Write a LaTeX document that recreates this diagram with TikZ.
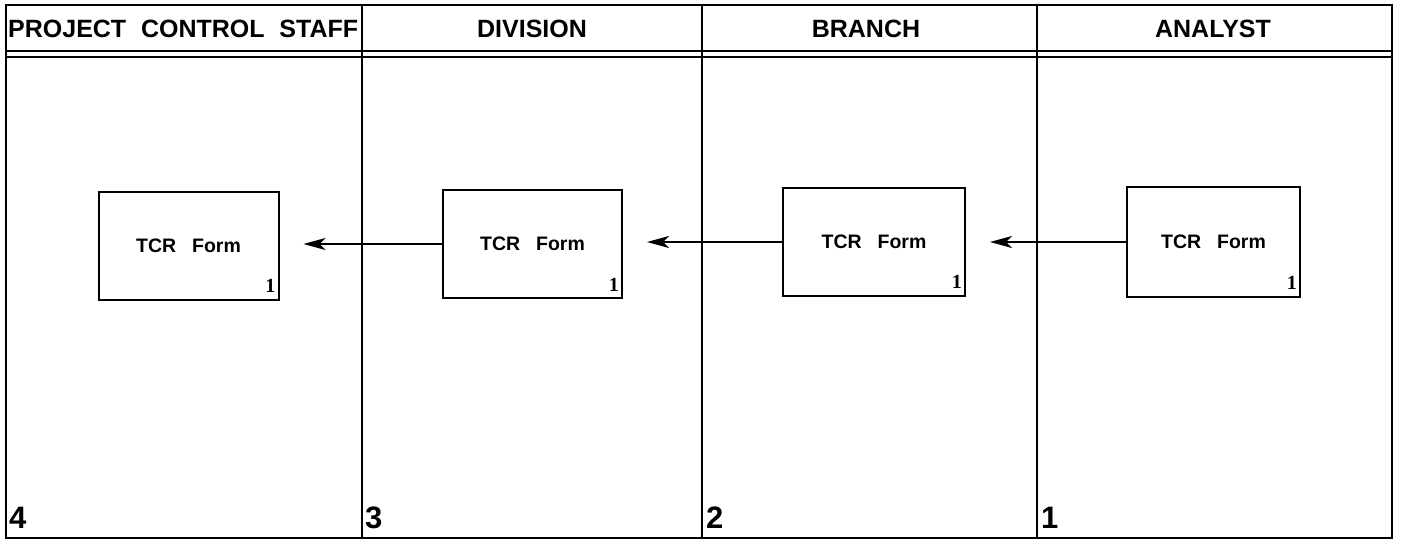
\documentclass[tikz,border=0pt]{standalone}
\usepackage{fontspec}
\setmainfont{Liberation Sans}
\newfontfamily\idxfont{Liberation Serif}
\usetikzlibrary{arrows.meta}
\begin{document}
\begin{tikzpicture}[x=1pt,y=-1pt,
  frameline/.style={line width=2.8pt},
  formbox/.style={draw,line width=2pt,minimum width=180pt,minimum height=108pt,inner sep=0pt,font=\fontsize{19.5}{19.5}\selectfont\bfseries},
  hdr/.style={font=\fontsize{25}{25}\selectfont\bfseries,inner sep=0pt,anchor=base},
  lanenum/.style={font=\fontsize{31}{31}\selectfont\bfseries,inner sep=0pt,anchor=base west},
  idx/.style={font=\idxfont\bfseries\fontsize{20}{20}\selectfont,inner sep=0pt,anchor=base east},
  flow/.style={line width=2.2pt,-{Stealth[length=22pt,width=12pt,inset=6pt]},shorten >=24pt}]
\useasboundingbox (0,0) rectangle (1401,540);
% frame and lanes
\draw[frameline] (6,5) rectangle (1392,538);
\draw[line width=1.6pt] (6,51) -- (1392,51);
\draw[frameline] (6,57) -- (1392,57);
\draw[frameline] (362,5) -- (362,538);
\draw[frameline] (702,5) -- (702,538);
\draw[frameline] (1037,5) -- (1037,538);
% headers
\node[hdr,anchor=base west] (hpcs) at (8,38) {\makebox[350pt][s]{PROJECT CONTROL STAFF}};
\node[hdr] (hdiv) at (532,38) {DIVISION};
\node[hdr] (hbr) at (866,38) {BRANCH};
\node[hdr] (han) at (1213,38) {ANALYST};
% lane numbers
\node[lanenum] (n4) at (9,528) {4};
\node[lanenum] (n3) at (365,528) {3};
\node[lanenum] (n2) at (706,528) {2};
\node[lanenum] (n1) at (1041,528) {1};
% boxes
\node[formbox] (pcs) at (188.5,246) {TCR\hspace{16pt}Form};
\node[formbox,minimum width=179pt] (div) at (532.5,244) {TCR\hspace{16pt}Form};
\node[formbox,minimum width=182pt] (br) at (874,242) {TCR\hspace{16pt}Form};
\node[formbox,minimum width=173pt,minimum height=110pt] (an) at (1213.5,242) {TCR\hspace{16pt}Form};
\foreach \b in {pcs,div,br,an}{
  \node[idx] (i\b) at ([xshift=-4pt,yshift=8pt]\b.south east) {1};
}
% arrows
\draw[flow] (an.west) -- (an.west -| br.east);
\draw[flow] (br.west) -- (br.west -| div.east);
\draw[flow] (div.west) -- (div.west -| pcs.east);
\end{tikzpicture}
\end{document}
